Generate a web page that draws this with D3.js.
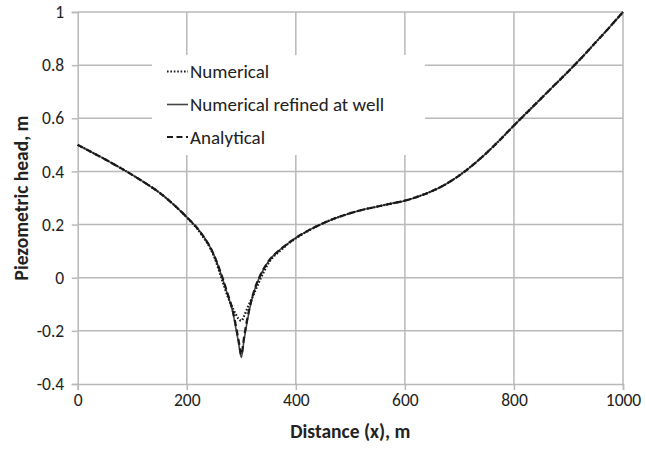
<!DOCTYPE html>
<html>
<head>
<meta charset="utf-8">
<script src="https://cdn.jsdelivr.net/npm/d3@7"></script>
<style>
  html, body { margin: 0; padding: 0; background: #fff; }
  svg { display: block; }
  text { font-family: Carlito, Calibri, Lato, sans-serif; fill: #222; }
</style>
</head>
<body>
<svg id="chart" width="646" height="449"></svg>
<script>
// ---- data ----
const distance   = [0, 25, 50, 75, 100, 125, 150, 175, 200, 225, 250, 265, 275, 285, 290, 295, 300, 305, 310, 315, 325, 335, 350, 375, 400, 425, 450, 475, 500, 525, 550, 575, 600, 625, 650, 675, 700, 725, 750, 775, 800, 825, 850, 875, 900, 925, 950, 975, 1000];
const numerical  = [0.5, 0.473, 0.446, 0.417, 0.387, 0.355, 0.32, 0.277, 0.227, 0.168, 0.08, -0.01, -0.07, -0.118, -0.138, -0.155, -0.162, -0.145, -0.12, -0.097, -0.052, -0.005, 0.055, 0.108, 0.148, 0.179, 0.205, 0.226, 0.243, 0.257, 0.268, 0.279, 0.29, 0.306, 0.326, 0.352, 0.385, 0.425, 0.47, 0.52, 0.573, 0.624, 0.675, 0.726, 0.777, 0.83, 0.886, 0.942, 1.0];
const refined    = [0.5, 0.473, 0.446, 0.417, 0.387, 0.355, 0.32, 0.277, 0.228, 0.172, 0.085, 0.0, -0.065, -0.135, -0.19, -0.245, -0.30, -0.235, -0.175, -0.12, -0.042, 0.009, 0.062, 0.112, 0.15, 0.18, 0.205, 0.226, 0.243, 0.257, 0.268, 0.279, 0.29, 0.306, 0.326, 0.352, 0.385, 0.425, 0.47, 0.52, 0.573, 0.624, 0.675, 0.726, 0.777, 0.83, 0.886, 0.942, 1.0];
const analytical = [0.5, 0.473, 0.446, 0.417, 0.387, 0.355, 0.32, 0.277, 0.228, 0.172, 0.085, 0.003, -0.06, -0.13, -0.18, -0.235, -0.29, -0.225, -0.165, -0.115, -0.04, 0.01, 0.062, 0.112, 0.15, 0.18, 0.205, 0.226, 0.243, 0.257, 0.268, 0.279, 0.29, 0.306, 0.326, 0.352, 0.385, 0.425, 0.47, 0.52, 0.573, 0.624, 0.675, 0.726, 0.777, 0.83, 0.886, 0.942, 1.0];

const xTicks = [0, 200, 400, 600, 800, 1000];
const yTicks = [-0.4, -0.2, 0, 0.2, 0.4, 0.6, 0.8, 1];
const yTickLabels = ["-0.4", "-0.2", "0", "0.2", "0.4", "0.6", "0.8", "1"];

const seriesNames = ["Numerical", "Numerical refined at well", "Analytical"];
const xTitle = "Distance (x), m";
const yTitle = "Piezometric head, m";

// ---- layout ----
const svg = d3.select("#chart");
const x = d3.scaleLinear().domain([0, 1000]).range([77.7, 623]);
const y = d3.scaleLinear().domain([-0.4, 1]).range([384, 12]);
const gridColor = "#b9b9b9";

// gridlines
svg.append("g").selectAll("line").data(xTicks.slice(1)).join("line")
  .attr("x1", d => x(d)).attr("x2", d => x(d))
  .attr("y1", y(1)).attr("y2", y(-0.4))
  .attr("stroke", gridColor).attr("stroke-width", 1.5);
svg.append("g").selectAll("line").data(yTicks.slice(1)).join("line")
  .attr("x1", x(0)).attr("x2", x(1000))
  .attr("y1", d => y(d)).attr("y2", d => y(d))
  .attr("stroke", gridColor).attr("stroke-width", 1.5);

// axes
const xAxis = svg.append("g").attr("transform", `translate(0,${y(-0.4)})`)
  .call(d3.axisBottom(x).tickValues(xTicks).tickSize(6).tickPadding(4).tickFormat(d3.format("d")));
const yAxis = svg.append("g").attr("transform", `translate(${x(0)},0)`)
  .call(d3.axisLeft(y).tickValues(yTicks).tickSize(6).tickPadding(7.5)
    .tickFormat((d, i) => yTickLabels[i]));
[xAxis, yAxis].forEach(g => {
  g.select(".domain").attr("stroke", gridColor).attr("stroke-width", 1.5);
  g.selectAll(".tick line").attr("stroke", gridColor).attr("stroke-width", 1.5);
  g.selectAll(".tick text").attr("font-family", "Carlito, Calibri, Lato, sans-serif")
    .attr("font-size", 17.5).attr("fill", "#222");
});

// axis titles
svg.append("text").attr("x", (x(0) + x(1000)) / 2).attr("y", 438)
  .attr("text-anchor", "middle").attr("font-weight", "bold").attr("font-size", 19.5)
  .text(xTitle);
svg.append("text").attr("transform", `translate(21,${(y(1) + y(-0.4)) / 2}) rotate(-90)`)
  .attr("text-anchor", "middle").attr("dy", "0.35em").attr("font-weight", "bold").attr("font-size", 19.5)
  .text(yTitle);

// legend box (white, covers gridlines)
svg.append("rect").attr("x", 152).attr("y", 55).attr("width", 273).attr("height", 100).attr("fill", "#fff");

// series
const styles = [
  { vals: refined,    dash: null,      width: 1.6, color: "#444" },
  { vals: analytical, dash: "6,3.5",   width: 2.2, color: "#1a1a1a" },
  { vals: numerical,  dash: "1.6,1.8", width: 2.2, color: "#1a1a1a" }
];
const line = d3.line().curve(d3.curveMonotoneX);
styles.forEach(s => {
  svg.append("path")
    .attr("d", line(distance.map((d, i) => [x(d), y(s.vals[i])])))
    .attr("fill", "none").attr("stroke", s.color).attr("stroke-width", s.width)
    .attr("stroke-dasharray", s.dash);
});

// legend entries
const legendStyles = [
  { dash: "1.6,1.8", width: 2, color: "#1a1a1a" },
  { dash: null, width: 1.6, color: "#444" },
  { dash: "6,3.5", width: 2, color: "#1a1a1a" }
];
const rowY = [71.5, 104.5, 137];
seriesNames.forEach((name, i) => {
  svg.append("line").attr("x1", 167).attr("x2", 188).attr("y1", rowY[i]).attr("y2", rowY[i])
    .attr("stroke", legendStyles[i].color).attr("stroke-width", legendStyles[i].width)
    .attr("stroke-dasharray", legendStyles[i].dash);
  svg.append("text").attr("x", 190).attr("y", rowY[i]).attr("dy", "0.35em")
    .attr("font-size", 19).text(name);
});
</script>
</body>
</html>
